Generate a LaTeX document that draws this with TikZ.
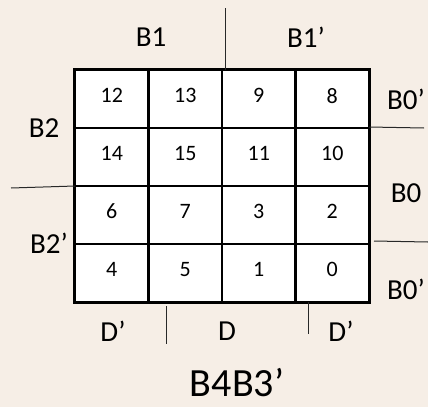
\documentclass[tikz,border=0pt]{standalone}
\usepackage{fontspec}
\setmainfont{Carlito}
\definecolor{bgcol}{RGB}{246,238,230}
\definecolor{thinline}{RGB}{40,40,40}
\begin{document}
\begin{tikzpicture}[x=1pt,y=-1pt,
  cell/.style={draw=black,fill=white,line width=2.3pt,minimum width=73.5pt,minimum height=58pt,inner sep=0pt,
    font=\fontsize{22}{22}\selectfont,text depth=7pt,anchor=center},
  lab/.style={font=\fontsize{29}{29}\selectfont,inner sep=0pt},
  sep/.style={draw=thinline,line width=1pt}]
\useasboundingbox[fill=bgcol] (0,0) rectangle (428,407);
% grid
\foreach \r/\nums in {0/{12,13,9,8},1/{14,15,11,10},2/{6,7,3,2},3/{4,5,1,0}}{
  \foreach \n [count=\c from 0] in \nums {
    \node[cell] (c\r\c) at ({75+36.75+73.5*\c},{70+29+58*\r}) {\n};
  }
}
% outer frame
\draw[line width=2.3pt] (c00.north west) rectangle (c33.south east);
% separator lines
\coordinate (t1) at (225,8);
\coordinate (t2) at (225,70);
\coordinate (l1) at (11,188);
\coordinate (l2) at (75,186);
\coordinate (r1) at (369,127);
\coordinate (r2) at (424,128);
\coordinate (r3) at (374,241);
\coordinate (r4) at (428,242);
\coordinate (b1) at (166,306);
\coordinate (b2) at (166,344);
\coordinate (b3) at (308,302);
\coordinate (b4) at (308,334);
\draw[sep] (t1) -- (t2);
\draw[sep] (l1) -- (l2);
\draw[sep] (r1) -- (r2);
\draw[sep] (r3) -- (r4);
\draw[sep] (b1) -- (b2);
\draw[sep] (b3) -- (b4);
% labels
\node[lab] (lB1) at (151,37) {B1};
\node[lab] (lB1p) at (306,37) {B1’};
\node[lab] (lB0pa) at (406,99) {B0’};
\node[lab] (lB2) at (44,128) {B2};
\node[lab] (lB0) at (406,193) {B0};
\node[lab] (lB2p) at (49,243) {B2’};
\node[lab] (lB0pb) at (406,289) {B0’};
\node[lab] (lDp1) at (113,331) {D’};
\node[lab] (lD) at (227,331) {D};
\node[lab] (lDp2) at (341,331) {D’};
\node[font=\fontsize{40}{40}\selectfont,inner sep=0pt] (title) at (237,383) {B4B3’};
\end{tikzpicture}
\end{document}
